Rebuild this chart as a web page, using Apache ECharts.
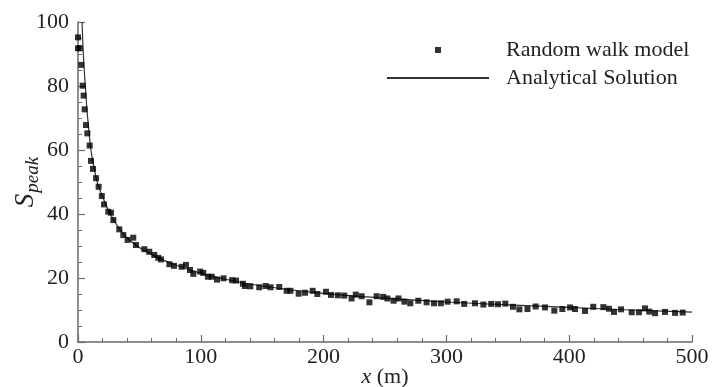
<!DOCTYPE html>
<html>
<head>
<meta charset="utf-8">
<script src="https://cdn.jsdelivr.net/npm/echarts@6/dist/echarts.min.js"></script>
<style>html,body{margin:0;padding:0;background:#fff;}#c{width:713px;height:387px;}</style>
</head>
<body>
<div id="c"></div>
<script>
// Random walk model: x (m)
var walkX = [0, 0, 1.5, 2.7, 3.8, 4.6, 5.4, 6.5, 7.6, 9.5, 10.6, 12.2, 14.7, 16.8, 19.4, 21.2, 24.7, 26.9, 28.8, 33.6,
  36.9, 40.4, 45.0, 47.2, 54.0, 58.0, 62.1, 65.4, 67.6, 74.4, 78.2, 84.4, 87.9, 91.2, 93.9, 99.5, 102, 105.8, 108.9, 113.2,
  118.5, 125.5, 128.7, 134.3, 136, 140.3, 147.6, 152.8, 156.8, 163.9, 169.9, 173, 179.7, 184.9, 191.1, 194.9, 201.9, 206, 211.6, 216.8,
  222.8, 226.2, 231, 237.3, 243.2, 248.5, 252, 257, 261, 265.8, 270.6, 277.1, 283.9, 289.9, 295.5, 301, 308.4, 314.5, 323.3, 330.1,
  336.5, 342, 348, 354.2, 359.4, 366, 372.7, 380.3, 387.9, 394.4, 400.7, 404.7, 412.9, 419.6, 427.8, 432.4, 436.5, 442.2, 450.9, 456.8,
  461.7, 465.2, 469.9, 478, 486.2, 492.4];
// Random walk model: S_peak
var walkS = [95.2, 91.8, 91.8, 86.6, 80.1, 77.0, 72.7, 67.8, 65.2, 61.4, 56.6, 54.1, 51.2, 48.5, 45.6, 43.0, 40.7, 40.4, 38.1, 35.2,
  33.4, 31.9, 32.6, 30.3, 29.0, 28.2, 27.2, 26.3, 25.8, 24.3, 23.8, 23.5, 24.1, 22.5, 21.3, 22.0, 21.6, 20.4, 20.4, 19.5,
  19.9, 19.3, 19.2, 18.2, 17.5, 17.4, 17.1, 17.5, 17.1, 17.2, 16.0, 16.0, 15.1, 15.4, 16.0, 15.0, 15.7, 14.7, 14.6, 14.5,
  13.6, 14.8, 14.3, 12.4, 14.3, 14.1, 13.6, 12.9, 13.6, 12.6, 12.1, 12.9, 12.4, 12.1, 12.1, 12.6, 12.7, 11.9, 12.1, 11.7,
  11.9, 11.8, 12.0, 11.0, 10.2, 10.3, 11.1, 10.8, 9.8, 10.3, 10.8, 10.3, 9.7, 11.0, 10.9, 10.4, 9.4, 10.2, 9.3, 9.3,
  10.5, 9.5, 9.0, 9.4, 9.1, 9.2];
// Analytical solution
var solX = [3.3, 4.0, 4.9, 6.0, 7.0, 8.0, 9.5, 10.9, 13, 16, 20, 25, 30, 35, 40, 50, 60, 70, 80, 90, 100, 120, 150, 200, 250, 300, 350, 400, 450, 500];
var solS = [100, 93, 86, 79.8, 74, 69.5, 63.5, 59, 54.5, 49.5, 45.4, 41.0, 37.5, 34.8, 32.5, 29.5, 27.3, 25.5, 24.0, 22.7, 21.5, 19.6, 17.5, 15.2, 13.7, 12.5, 11.6, 10.8, 10.0, 9.35];
// Axis ticks
var xTicks = [0, 100, 200, 300, 400, 500];
var yTicks = [0, 20, 40, 60, 80, 100];

var serif = '"Liberation Serif", "Times New Roman", serif';
var chart = echarts.init(document.getElementById('c'), null, {renderer: 'canvas'});
var walkData = walkX.map(function (x, i) { return [x, walkS[i]]; });
var solData = solX.map(function (x, i) { return [x, solS[i]]; });
var axisGray = '#6a6a6a';

chart.setOption({
  animation: false,
  backgroundColor: '#fff',
  grid: {left: 78, right: 21, top: 22, bottom: 45, containLabel: false, outerBoundsMode: 'none'},
  legend: {
    orient: 'vertical',
    left: 381,
    top: 34,
    itemWidth: 102,
    itemHeight: 6,
    itemGap: 6,
    selectedMode: false,
    textStyle: {fontFamily: serif, fontSize: 22, color: '#222', padding: [0, 0, 0, 12]},
    data: [
      {name: 'Random walk model', icon: 'path://M0,0L10,0L10,10L0,10Z', symbolKeepAspect: true},
      {name: 'Analytical Solution', itemStyle: {color: 'rgba(0,0,0,0)', borderWidth: 0}}
    ]
  },
  xAxis: {
    type: 'value',
    min: xTicks[0], max: xTicks[xTicks.length - 1], interval: 100,
    name: '{i|x} (m)',
    nameLocation: 'middle',
    nameGap: 24,
    nameMoveOverlap: false,
    nameTextStyle: {fontFamily: serif, fontSize: 22, color: '#222', rich: {i: {fontFamily: serif, fontSize: 22, fontStyle: 'italic', color: '#222'}}},
    axisLine: {show: true, onZero: false, lineStyle: {color: axisGray, width: 1.5}},
    axisTick: {show: true, inside: true, length: 7, lineStyle: {color: axisGray, width: 1.2}},
    minorTick: {show: true, splitNumber: 5, length: 4, lineStyle: {color: axisGray, width: 1}},
    axisLabel: {fontFamily: serif, fontSize: 22, color: '#222', margin: 4, showMinLabel: true, showMaxLabel: true},
    splitLine: {show: false}
  },
  yAxis: {
    type: 'value',
    min: yTicks[0], max: yTicks[yTicks.length - 1], interval: 20,
    name: '{s|S}{p|peak}',
    nameLocation: 'middle',
    nameGap: 36,
    nameRotate: 90,
    nameMoveOverlap: false,
    nameTextStyle: {
      fontFamily: serif, fontSize: 22, color: '#222',
      rich: {
        s: {fontFamily: serif, fontSize: 27, fontStyle: 'italic', color: '#222'},
        p: {fontFamily: serif, fontSize: 19, fontStyle: 'italic', color: '#222', padding: [13, 0, 0, 1]}
      }
    },
    axisLine: {show: true, onZero: false, lineStyle: {color: axisGray, width: 1.5}},
    axisTick: {show: true, inside: true, length: 7, lineStyle: {color: axisGray, width: 1.2}},
    minorTick: {show: true, splitNumber: 4, length: 4, lineStyle: {color: axisGray, width: 1}},
    axisLabel: {fontFamily: serif, fontSize: 22, color: '#222', margin: 9, showMinLabel: true, showMaxLabel: true},
    splitLine: {show: false}
  },
  series: [
    {
      name: 'Analytical Solution',
      type: 'line',
      data: solData,
      smooth: 0.3,
      symbol: 'none',
      showSymbol: false,
      lineStyle: {color: '#333', width: 1.2},
      itemStyle: {color: '#333'},
      z: 2
    },
    {
      name: 'Random walk model',
      type: 'scatter',
      data: walkData,
      symbol: 'rect',
      symbolSize: 6,
      itemStyle: {color: '#000'},
      z: 3
    }
  ]
});
</script>
</body>
</html>
